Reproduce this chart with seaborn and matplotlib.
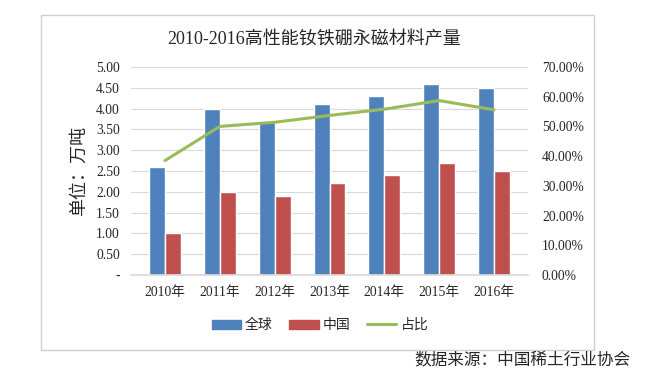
import matplotlib.pyplot as plt
import matplotlib.patches as mpatches
from matplotlib.lines import Line2D
import seaborn as sns
import pandas as pd
import numpy as np

years = ['2010年', '2011年', '2012年', '2013年', '2014年', '2015年', '2016年']
world = [2.6, 4.0, 3.7, 4.1, 4.3, 4.6, 4.5]
china = [1.0, 2.0, 1.9, 2.2, 2.4, 2.7, 2.5]
share = [0.385, 0.50, 0.514, 0.537, 0.558, 0.587, 0.556]

sns.set_theme(style='white')
plt.rcParams['font.family'] = ['Liberation Serif', 'Noto Sans CJK SC']

df = pd.DataFrame({
    'year': years * 2,
    'value': world + china,
    'series': ['全球'] * len(years) + ['中国'] * len(years),
})

fig = plt.figure(figsize=(6.55, 3.71), dpi=100)
ax1 = fig.add_axes([131 / 655, 1 - 275 / 371, 397 / 655, 208 / 371])

## bars
sns.barplot(data=df, x='year', y='value', hue='series', palette=['#4F81BD', '#C0504D'],
            width=0.58, saturation=1, legend=False, ax=ax1)
ax1.set_ylim(0, 5)
ax1.set_yticks(np.arange(0, 5.01, 0.5))
ax1.set_yticklabels(['-'] + [f'{v:.2f}' for v in np.arange(0.5, 5.01, 0.5)])
ax1.yaxis.grid(True, color='#D9D9D9', linewidth=0.8)
ax1.set_axisbelow(True)
ax1.set_xlabel('')
ax1.set_ylabel('单位：万吨', fontsize=13, family=['Noto Sans CJK SC'], labelpad=6)
ax1.tick_params(axis='both', labelsize=9.8, length=0, pad=8)
for s in ax1.spines.values():
    s.set_visible(False)
ax1.spines['bottom'].set_visible(True)
ax1.spines['bottom'].set_color('#D9D9D9')

## share line
ax2 = ax1.twinx()
sns.lineplot(x=np.arange(len(years)), y=share, color='#9BBB59', linewidth=2.2, ax=ax2)
ax2.set_ylim(0, 0.7)
ax2.set_yticks(np.arange(0, 0.71, 0.1))
ax2.set_yticklabels([f'{v * 100:.2f}%' for v in np.arange(0, 0.71, 0.1)])
ax2.tick_params(axis='y', labelsize=9.8, length=0, pad=10)
for s in ax2.spines.values():
    s.set_visible(False)

fig.text(0.48, 1 - 40 / 371, '2010-2016高性能钕铁硼永磁材料产量', ha='center', va='center', fontsize=13)

handles = [mpatches.Patch(color='#4F81BD'), mpatches.Patch(color='#C0504D'),
           Line2D([0], [0], color='#9BBB59', linewidth=2.2)]
fig.legend(handles, ['全球', '中国', '占比'], loc='center', bbox_to_anchor=(320 / 655, 1 - 325 / 371),
           ncol=3, frameon=False, handlelength=2.1, handleheight=0.6, handletextpad=0.3,
           columnspacing=1.2, prop={'family': ['Noto Sans CJK SC'], 'size': 10})

frame = mpatches.Rectangle((41 / 655, 1 - 350 / 371), 553 / 655, 335 / 371, transform=fig.transFigure,
                           fill=False, edgecolor='#D0D0D0', linewidth=1)
fig.patches.append(frame)

fig.text(630 / 655, 1 - 361 / 371, '数据来源：中国稀土行业协会', ha='right', va='center', fontsize=12,
         family=['Noto Sans CJK SC'])

fig.savefig('out.png', dpi=100)
